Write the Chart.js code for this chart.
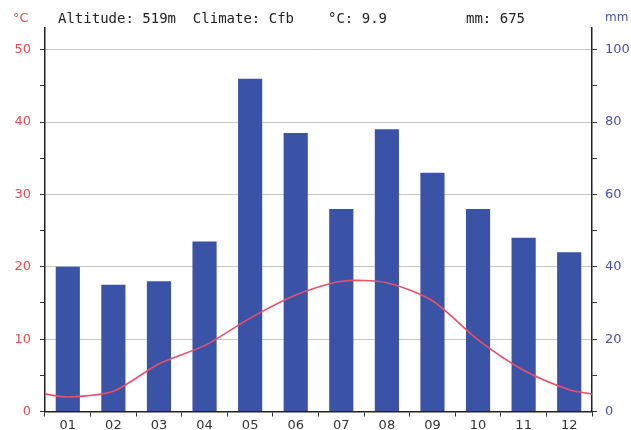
<!DOCTYPE html>
<html>
<head>
<meta charset="utf-8">
<script src="https://cdn.jsdelivr.net/npm/chart.js@4.4.1/dist/chart.umd.min.js"></script>
<style>
  body { margin: 0; background: #fff; }
  .wrap { position: relative; width: 631px; height: 430px; }
  .hdr { position: absolute; top: 10px; font: 14px "DejaVu Sans Mono", monospace; color: #222; white-space: pre; }
  .unit { position: absolute; top: 10px; font: 13px "DejaVu Sans", sans-serif; }
</style>
</head>
<body>
<div class="wrap">
  <canvas class="climate" width="631" height="430"></canvas>
  <span class="unit" style="left:13px;color:#e8474f">°C</span>
  <span class="hdr" style="left:58px">Altitude: 519m  Climate: Cfb</span>
  <span class="hdr" style="left:328px">°C: 9.9</span>
  <span class="hdr" style="left:466px">mm: 675</span>
  <span class="unit" style="left:605px;color:#4a4fa8;font-size:12px">mm</span>
</div>
<script>
  // monthly values
  const months = ['01', '02', '03', '04', '05', '06', '07', '08', '09', '10', '11', '12']
  const precip = [40, 35, 36, 47, 92, 77, 56, 78, 66, 56, 48, 44]
  const temp = [2.0, 2.8, 6.6, 9.1, 12.9, 16.1, 18.0, 17.8, 15.3, 9.9, 5.7, 3.0]
  const tempEdge = 2.4   // where the curve meets both plot edges

  // line goes edge to edge, so it sits on its own linear x axis
  const tempPoints = [{ x: 0.5, y: tempEdge }]
  temp.forEach((t, i) => tempPoints.push({ x: i + 1, y: t }))
  tempPoints.push({ x: 12.5, y: tempEdge })

  const red = '#e8474f'
  const blue = '#4a4fa8'

  const ctx = document.querySelector('.climate').getContext('2d')
  new Chart(ctx, {
    type: 'bar',
    data: {
      labels: months,
      datasets: [{
        type: 'line',
        data: tempPoints,
        xAxisID: 'xl',
        yAxisID: 'y',
        borderColor: '#e8506a',
        borderWidth: 1.6,
        pointRadius: 0,
        tension: 0.25,
        order: 0
      }, {
        type: 'bar',
        data: precip,
        xAxisID: 'x',
        yAxisID: 'y2',
        backgroundColor: '#3a53a6',
        grouped: false,
        barPercentage: 0.53,
        categoryPercentage: 1,
        order: 1
      }]
    },
    options: {
      responsive: false,
      animation: false,
      layout: { padding: { top: 28, left: 0, right: 0, bottom: 0 } },
      plugins: { legend: { display: false }, tooltip: { enabled: false } },
      scales: {
        x: {
          type: 'category',
          offset: true,
          grid: { offset: true, drawOnChartArea: false, tickLength: 5, tickColor: '#333' },
          border: { color: '#222', width: 1.5 },
          ticks: { color: '#333', font: { family: 'DejaVu Sans', size: 13 }, padding: 1 },
          afterFit: (scale) => { scale.height = 18.5 }
        },
        xl: {
          type: 'linear',
          display: false,
          offset: false,
          min: 0.5,
          max: 12.5
        },
        y: {
          position: 'left',
          min: 0,
          max: 53,
          ticks: {
            stepSize: 5,
            color: red,
            padding: 9,
            font: { family: 'DejaVu Sans', size: 13 },
            callback: (v) => v % 10 === 0 ? v : ''
          },
          afterBuildTicks: (scale) => { scale.ticks = scale.ticks.filter(t => t.value <= 50) },
          grid: {
            color: (c) => (c.tick && c.tick.value % 10 === 0 && c.tick.value > 0) ? '#c8c8c8' : 'rgba(0,0,0,0)',
            tickColor: '#333',
            tickLength: 5
          },
          border: { color: '#222', width: 1.5 },
          afterFit: (scale) => { scale.width = 45 }
        },
        y2: {
          position: 'right',
          min: 0,
          max: 106,
          ticks: {
            stepSize: 10,
            color: blue,
            padding: 8,
            font: { family: 'DejaVu Sans', size: 13 },
            callback: (v) => v % 20 === 0 ? v : ''
          },
          afterBuildTicks: (scale) => { scale.ticks = scale.ticks.filter(t => t.value <= 100) },
          grid: { drawOnChartArea: false, tickColor: '#333', tickLength: 5 },
          border: { color: '#222', width: 1.5 },
          afterFit: (scale) => { scale.width = 39 }
        }
      }
    }
  })
</script>
</body>
</html>
